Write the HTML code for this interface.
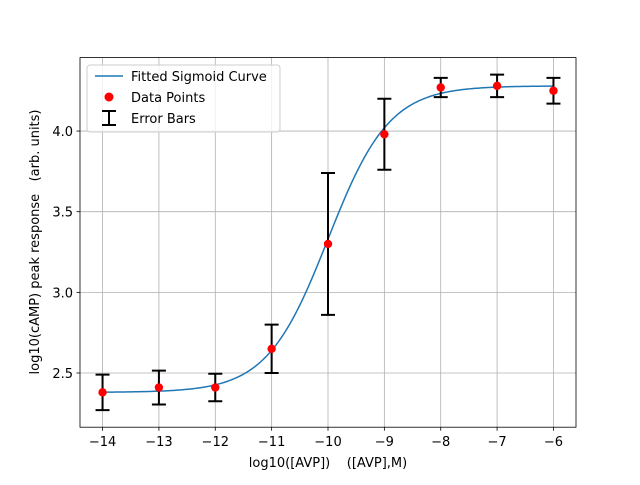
<!DOCTYPE html>
<html><head><meta charset="utf-8"><style>
body{margin:0;background:#fff}
svg text{font-family:"DejaVu Sans","Liberation Sans",sans-serif;fill:#000;white-space:pre}
</style></head><body>
<svg id="chart" width="640" height="480" viewBox="0 0 640 480">
<rect width="640" height="480" fill="#fff"/>
<g id="grid"></g>
<g id="curve"></g>
<g id="errs"></g>
<g id="pts"></g>
<rect x="80" y="57.6" width="496" height="369.6" fill="none" stroke="#000" stroke-width="0.8"/>
<g id="ticks"></g>
<text x="328" y="467" text-anchor="middle" font-size="13" xml:space="preserve">log10([AVP])    ([AVP],M)</text>
<text transform="translate(39,242) rotate(-90)" text-anchor="middle" font-size="13" xml:space="preserve">log10(cAMP) peak response   (arb. units)</text>
<g>
<rect x="87" y="65" width="193" height="67" rx="3" fill="#fff" fill-opacity="0.8" stroke="#ccc"/>
<line x1="95" y1="76" x2="123" y2="76" stroke="#1f77b4" stroke-width="1.5"/>
<text x="131" y="81" font-size="13">Fitted Sigmoid Curve</text>
<circle cx="109" cy="97" r="4.5" fill="red"/>
<text x="131" y="102" font-size="13">Data Points</text>
<g stroke="#000" stroke-width="2"><line x1="109" y1="111" x2="109" y2="125"/><line x1="102" y1="111" x2="116" y2="111"/><line x1="102" y1="125" x2="116" y2="125"/></g>
<text x="131" y="123" font-size="13">Error Bars</text>
</g>
</svg>
<script>
const xVals=[-14,-13,-12,-11,-10,-9,-8,-7,-6];
const yVals=[2.38,2.41,2.41,2.65,3.30,3.98,4.27,4.28,4.25];
const yErr=[0.11,0.105,0.085,0.15,0.44,0.22,0.06,0.07,0.08];
const fitParams=[2.38,4.28,-10.0,0.8]; // bottom, top, logEC50, hill
const xTicks=[-14,-13,-12,-11,-10,-9,-8,-7,-6];
const yTicks=[2.5,3.0,3.5,4.0];
const X=v=>80+(v+14.4)/8.8*496;
const Y=v=>373-(v-2.5)*161.3;
const NS='http://www.w3.org/2000/svg';
function mk(t,a,p){const e=document.createElementNS(NS,t);for(const k in a)e.setAttribute(k,a[k]);p.appendChild(e);return e;}
const grid=document.getElementById('grid'),ticks=document.getElementById('ticks');
xTicks.forEach(t=>{
 const g=mk('line',{x1:X(t),x2:X(t),y1:57.6,y2:427.2,stroke:'#b0b0b0','stroke-width':0.8},grid);
 
 
 const k=mk('line',{x1:X(t),x2:X(t),y1:427.2,y2:430.7,stroke:'#000','stroke-width':0.8},ticks);
 
 
 const l=mk('text',{x:X(t),y:446,'text-anchor':'middle','font-size':13},ticks);
 l.textContent='\u2212'+Math.abs(t);
 
 
});
yTicks.forEach(t=>{
 const g=mk('line',{x1:80,x2:576,y1:Y(t),y2:Y(t),stroke:'#b0b0b0','stroke-width':0.8},grid);
 
 
 const k=mk('line',{x1:76.5,x2:80,y1:Y(t),y2:Y(t),stroke:'#000','stroke-width':0.8},ticks);
 
 
 const l=mk('text',{x:73,y:Y(t)+5,'text-anchor':'end','font-size':13},ticks);
 l.textContent=t.toFixed(1);
 
 
});
const [b,tp,ec,h]=fitParams;let d='';
for(let i=0;i<=200;i++){const x=-14+8*i/200;const y=b+(tp-b)/(1+Math.pow(10,h*(ec-x)));d+=(i?'L':'M')+X(x).toFixed(2)+','+Y(y).toFixed(2);}
const c=mk('path',{d:d,fill:'none',stroke:'#1f77b4','stroke-width':1.5},document.getElementById('curve'));


const errs=document.getElementById('errs'),pts=document.getElementById('pts');
xVals.forEach((x,i)=>{
 const px=X(x),t=Y(yVals[i]+yErr[i]),bo=Y(yVals[i]-yErr[i]);
 const e=mk('path',{d:`M${px},${t}V${bo}M${px-7},${t}H${px+7}M${px-7},${bo}H${px+7}`,stroke:'#000','stroke-width':2,fill:'none'},errs);
 
 
 const p=mk('circle',{cx:px,cy:Y(yVals[i]),r:4.2,fill:'red'},pts);
 
 
});
</script>
</body></html>
